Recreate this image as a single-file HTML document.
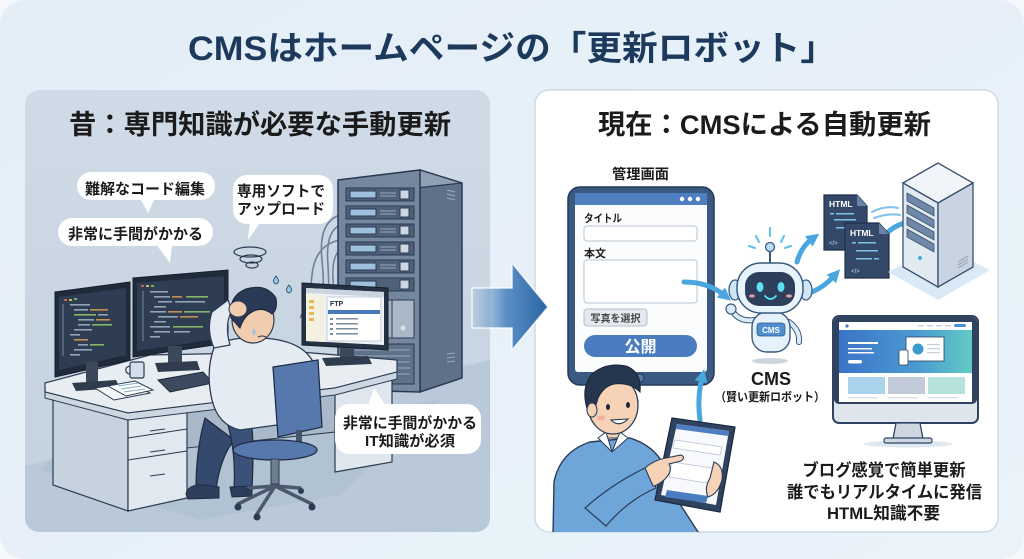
<!DOCTYPE html>
<html><head><meta charset="utf-8">
<style>
html,body{margin:0;padding:0;background:#f6f9fc;}
svg{display:block}
text{font-family:"Liberation Sans","Noto Sans CJK JP",sans-serif;font-weight:700;}
</style></head><body>
<svg width="1024" height="559" viewBox="0 0 1024 559" xmlns="http://www.w3.org/2000/svg">
<defs>
 <linearGradient id="bg" x1="0" y1="0" x2="1" y2="1">
  <stop offset="0" stop-color="#e4eef7"/><stop offset="1" stop-color="#eaf3fa"/>
 </linearGradient>
 <linearGradient id="lp" x1="0" y1="0" x2="0" y2="1">
  <stop offset="0" stop-color="#cfdbe6"/><stop offset="1" stop-color="#c3d1df"/>
 </linearGradient>
 <linearGradient id="arrowG" x1="472" y1="0" x2="548" y2="0" gradientUnits="userSpaceOnUse">
  <stop offset="0" stop-color="#6f9fcc" stop-opacity="0.15"/>
  <stop offset="0.45" stop-color="#5b90c6"/>
  <stop offset="1" stop-color="#2a64a3"/>
 </linearGradient>
 <linearGradient id="hero" x1="0" x2="1">
  <stop offset="0" stop-color="#3b74c8"/><stop offset="0.6" stop-color="#4b9bd2"/><stop offset="1" stop-color="#62cbc4"/>
 </linearGradient>
 <clipPath id="lclip"><rect x="25" y="90" width="465" height="442" rx="14"/></clipPath>
 <clipPath id="rclip"><rect x="535" y="90" width="463" height="442" rx="14"/></clipPath>
 <marker id="ah" markerWidth="13" markerHeight="13" refX="4" refY="6.5" orient="auto" markerUnits="userSpaceOnUse">
  <path d="M0,0 L13,6.5 L0,13 z" fill="#4aa6de"/>
 </marker>
</defs>

<!-- background card -->
<rect x="0" y="0" width="1024" height="559" rx="24" fill="url(#bg)"/>

<!-- title -->
<text x="512" y="60" text-anchor="middle" font-size="34" fill="#1d3a5c" textLength="648" lengthAdjust="spacingAndGlyphs">CMSはホームページの「更新ロボット」</text>

<!-- LEFT PANEL -->
<rect x="25" y="90" width="465" height="442" rx="14" fill="url(#lp)"/>
<g clip-path="url(#lclip)">
 <polygon points="25,466 490,360 490,532 25,532" fill="#b9c9d9"/>
 <polygon points="40,470 200,520 340,495 420,420 440,400 300,420 60,450" fill="#aebfd0" opacity="0.7"/>
</g>
<text x="260" y="134" text-anchor="middle" font-size="27" fill="#1b1b1b" textLength="382" lengthAdjust="spacingAndGlyphs">昔：専門知識が必要な手動更新</text>

<!-- cables -->
<g fill="none" stroke="#6f8199" stroke-width="1.6">
 <path d="M340,215 Q318,222 322,260 Q326,300 318,330"/>
 <path d="M340,225 Q325,232 328,265 Q330,300 326,335"/>
 <path d="M340,240 Q315,245 312,275 Q310,300 300,318"/>
 <path d="M340,250 Q330,258 334,290 Q336,310 332,338"/>
</g>

<!-- server rack left -->
<polygon points="420,170 462,183 462,378 420,392" fill="#5f7189" stroke="#2a3a52" stroke-width="1.5"/>
<polygon points="338,180 420,170 462,183 380,192" fill="#8fa0b5" stroke="#2a3a52" stroke-width="1.2"/>
<polygon points="338,180 420,170 420,392 338,390" fill="#74879f" stroke="#2a3a52" stroke-width="1.5"/>
<g stroke="#2a3a52" stroke-width="1">
 <rect x="346" y="188" width="68" height="13" fill="#4f6179"/><rect x="350" y="191" width="26" height="7" fill="#9fc0dc"/><rect x="400" y="190" width="9" height="9" fill="#cfd8e2"/>
 <rect x="346" y="206" width="68" height="13" fill="#4f6179"/><rect x="350" y="209" width="26" height="7" fill="#9fc0dc"/><rect x="400" y="208" width="9" height="9" fill="#cfd8e2"/>
 <rect x="346" y="224" width="68" height="13" fill="#4f6179"/><rect x="350" y="227" width="26" height="7" fill="#9fc0dc"/><rect x="400" y="226" width="9" height="9" fill="#cfd8e2"/>
 <rect x="346" y="242" width="68" height="13" fill="#4f6179"/><rect x="350" y="245" width="26" height="7" fill="#9fc0dc"/><rect x="400" y="244" width="9" height="9" fill="#cfd8e2"/>
 <rect x="346" y="260" width="68" height="13" fill="#4f6179"/><rect x="350" y="263" width="26" height="7" fill="#9fc0dc"/><rect x="400" y="262" width="9" height="9" fill="#cfd8e2"/>
 <rect x="346" y="278" width="68" height="13" fill="#4f6179"/><rect x="350" y="281" width="26" height="7" fill="#9fc0dc"/><rect x="400" y="280" width="9" height="9" fill="#cfd8e2"/>
 <rect x="346" y="300" width="68" height="38" fill="#aab8c8"/>
 <line x1="369" y1="300" x2="369" y2="338"/><line x1="392" y1="300" x2="392" y2="338"/>
 <rect x="346" y="344" width="68" height="40" fill="#5f7189"/>
</g>
<g fill="#dbe3ec">
 <circle cx="357" cy="328" r="2.5"/><circle cx="380" cy="328" r="2.5"/><circle cx="403" cy="328" r="2.5"/>
</g>
<g stroke="#9aaabd" stroke-width="1">
 <line x1="380" y1="193" x2="396" y2="193"/><line x1="380" y1="196" x2="396" y2="196"/>
 <line x1="380" y1="211" x2="396" y2="211"/><line x1="380" y1="214" x2="396" y2="214"/>
 <line x1="380" y1="229" x2="396" y2="229"/><line x1="380" y1="232" x2="396" y2="232"/>
 <line x1="380" y1="247" x2="396" y2="247"/><line x1="380" y1="250" x2="396" y2="250"/>
 <line x1="380" y1="265" x2="396" y2="265"/><line x1="380" y1="268" x2="396" y2="268"/>
 <line x1="350" y1="350" x2="410" y2="350"/><line x1="350" y1="356" x2="410" y2="356"/><line x1="350" y1="362" x2="410" y2="362"/><line x1="350" y1="368" x2="410" y2="368"/><line x1="350" y1="374" x2="410" y2="374"/>
 <line x1="447" y1="190" x2="455" y2="192"/><line x1="447" y1="194" x2="455" y2="196"/><line x1="447" y1="198" x2="455" y2="200"/>
 <line x1="447" y1="354" x2="455" y2="353"/><line x1="447" y1="358" x2="455" y2="357"/><line x1="447" y1="362" x2="455" y2="361"/>
</g>

<!-- desk -->
<polygon points="53,398 128,420 128,511 53,485" fill="#c6d2de" stroke="#2b3b52" stroke-width="1.2"/>
<polygon points="187,412 335,392 335,432 187,448" fill="#aab9c9" stroke="#2b3b52" stroke-width="1"/>
<polygon points="128,420 187,410 187,498 128,511" fill="#e2e8ef" stroke="#2b3b52" stroke-width="1.2"/>
<g stroke="#2b3b52" stroke-width="1" fill="none">
 <line x1="128" y1="438" x2="187" y2="429"/><line x1="128" y1="460" x2="187" y2="451"/>
 <line x1="150" y1="431" x2="165" y2="429"/><line x1="150" y1="452" x2="165" y2="450"/><line x1="150" y1="476" x2="165" y2="474"/>
</g>
<polygon points="335,392 392,378 392,462 335,472" fill="#dfe6ed" stroke="#2b3b52" stroke-width="1.2"/>
<polygon points="45,383 150,355 300,352 397,360 397,372 335,388 128,413 45,392" fill="#e8edf2" stroke="#2b3b52" stroke-width="1.2"/>
<polygon points="45,392 128,413 335,388 397,372 397,379 335,395 128,420 45,398" fill="#cdd7e1" stroke="#2b3b52" stroke-width="1"/>

<!-- monitors -->
<polygon points="55,292 130,282 130,360 55,377" fill="#1f2b3b" stroke="#16202c" stroke-width="1"/>
<polygon points="59,297 126,288 126,355 59,370" fill="#2e3d52"/>
<rect x="86" y="362" width="12" height="20" fill="#3a4859"/>
<polygon points="72,383 116,380 120,388 76,391" fill="#2f3c4d"/>
<polygon points="133,278 228,270 228,343 133,357" fill="#1f2b3b" stroke="#16202c" stroke-width="1"/>
<polygon points="137,283 224,276 224,338 137,351" fill="#2e3d52"/>
<rect x="168" y="346" width="14" height="17" fill="#3a4859"/>
<polygon points="155,363 197,361 200,370 158,372" fill="#2f3c4d"/>
<g opacity="0.9">
 <rect x="64" y="299" width="3" height="2" fill="#e0665a"/><rect x="69" y="299" width="3" height="2" fill="#e8c05a"/><rect x="74" y="298" width="3" height="2" fill="#7cc46a"/>
 <rect x="70" y="304" width="20" height="1.6" fill="#9fb0c4"/>
 <rect x="74" y="309" width="14" height="1.6" fill="#9fb0c4"/><rect x="90" y="309" width="18" height="1.6" fill="#d79b4f"/>
 <rect x="74" y="314" width="22" height="1.6" fill="#8fc36a"/><rect x="98" y="314" width="10" height="1.6" fill="#9fb0c4"/>
 <rect x="78" y="319" width="16" height="1.6" fill="#9fb0c4"/><rect x="96" y="319" width="14" height="1.6" fill="#d79b4f"/>
 <rect x="78" y="324" width="12" height="1.6" fill="#9fb0c4"/><rect x="92" y="324" width="20" height="1.6" fill="#8fc36a"/>
 <rect x="74" y="329" width="18" height="1.6" fill="#9fb0c4"/>
 <rect x="70" y="334" width="10" height="1.6" fill="#9fb0c4"/>
 <rect x="74" y="339" width="14" height="1.6" fill="#d79b4f"/>
 <rect x="78" y="344" width="10" height="1.6" fill="#9fb0c4"/><rect x="90" y="344" width="14" height="1.6" fill="#8fc36a"/>
 <rect x="74" y="349" width="18" height="1.6" fill="#9fb0c4"/>
 <rect x="70" y="354" width="10" height="1.6" fill="#9fb0c4"/>
 <rect x="62" y="304" width="2" height="52" fill="#56677c"/>
 <rect x="141" y="285" width="3" height="2" fill="#e0665a"/><rect x="146" y="285" width="3" height="2" fill="#e8c05a"/><rect x="151" y="285" width="3" height="2" fill="#7cc46a"/>
 <rect x="150" y="291" width="18" height="1.6" fill="#9fb0c4"/>
 <rect x="154" y="296" width="16" height="1.6" fill="#9fb0c4"/><rect x="172" y="296" width="10" height="1.6" fill="#d79b4f"/><rect x="186" y="296" width="22" height="1.6" fill="#8fc36a"/>
 <rect x="158" y="301" width="14" height="1.6" fill="#9fb0c4"/><rect x="175" y="301" width="30" height="1.6" fill="#9fb0c4"/>
 <rect x="154" y="306" width="12" height="1.6" fill="#9fb0c4"/>
 <rect x="150" y="311" width="16" height="1.6" fill="#9fb0c4"/><rect x="168" y="311" width="14" height="1.6" fill="#d79b4f"/><rect x="184" y="311" width="26" height="1.6" fill="#8fc36a"/>
 <rect x="158" y="316" width="20" height="1.6" fill="#9fb0c4"/><rect x="180" y="316" width="18" height="1.6" fill="#d79b4f"/>
 <rect x="154" y="321" width="12" height="1.6" fill="#9fb0c4"/>
 <rect x="150" y="326" width="20" height="1.6" fill="#9fb0c4"/><rect x="173" y="326" width="30" height="1.6" fill="#8fc36a"/>
 <rect x="154" y="331" width="16" height="1.6" fill="#9fb0c4"/><rect x="174" y="331" width="16" height="1.6" fill="#9fb0c4"/>
 <rect x="150" y="336" width="10" height="1.6" fill="#9fb0c4"/>
 <rect x="142" y="291" width="2" height="50" fill="#56677c"/>
</g>
<!-- mug & papers & keyboard -->
<rect x="130" y="362" width="14" height="16" rx="2" fill="#d5dee8" stroke="#2b3b52" stroke-width="1.2"/>
<path d="M130,366 q-5,1 -4,5 q1,3 4,3" fill="none" stroke="#2b3b52" stroke-width="1.2"/>
<polygon points="95,388 130,383 150,393 114,400" fill="#f4f7fa" stroke="#2b3b52" stroke-width="1"/>
<polygon points="108,386 135,381 153,390 126,396" fill="#ffffff" stroke="#2b3b52" stroke-width="1"/>
<g stroke="#7fb0c8" stroke-width="1"><line x1="118" y1="386" x2="138" y2="383"/><line x1="121" y1="389" x2="142" y2="386"/><line x1="124" y1="392" x2="145" y2="389"/></g>
<polygon points="158,380 203,372 213,383 170,392" fill="#3b4a5e" stroke="#1d2838" stroke-width="1"/>

<!-- FTP monitor -->
<polygon points="302,283 388,288 388,350 302,345" fill="#243244" stroke="#16202c" stroke-width="1"/>
<polygon points="306,288 384,292 384,345 306,341" fill="#eef3f8"/>
<polygon points="306,288 384,292 384,297 306,293" fill="#c9d4e0"/>
<polygon points="306,293 324,294 324,342 306,341" fill="#f5f1e2"/>
<g fill="#e8b850"><rect x="309" y="300" width="5" height="3"/><rect x="309" y="306" width="5" height="3"/><rect x="309" y="312" width="5" height="3"/><rect x="309" y="318" width="5" height="3"/></g>
<rect x="327" y="297" width="54" height="44" fill="#ffffff" stroke="#9fb0c4" stroke-width="0.6"/>
<text x="330" y="306" font-size="7" fill="#1d2b3c">FTP</text>
<rect x="328" y="310" width="52" height="4" fill="#4a78b8"/>
<g fill="#7b8ca0"><rect x="330" y="318" width="3" height="2"/><rect x="336" y="318" width="22" height="1.5"/><rect x="330" y="323" width="3" height="2"/><rect x="336" y="323" width="22" height="1.5"/><rect x="330" y="328" width="3" height="2"/><rect x="336" y="328" width="22" height="1.5"/><rect x="330" y="333" width="3" height="2"/><rect x="336" y="333" width="22" height="1.5"/></g>
<rect x="340" y="348" width="14" height="10" fill="#3a4859"/>
<polygon points="322,358 368,356 372,364 326,366" fill="#2f3c4d"/>

<!-- person left -->
<path d="M205,418 Q196,450 196,488 L216,490 Q220,458 234,440 Z" fill="#34496d" stroke="#1e2b40" stroke-width="1.2"/>
<path d="M228,425 Q236,455 234,488 L252,488 Q254,450 252,428 Z" fill="#3b5177" stroke="#1e2b40" stroke-width="1.2"/>
<path d="M186,494 Q188,484 204,485 L219,487 L219,498 L188,499 Z" fill="#2c3e5c" stroke="#1e2b40" stroke-width="1"/>
<path d="M230,487 L252,486 L252,496 L232,497 Z" fill="#2c3e5c" stroke="#1e2b40" stroke-width="1"/>
<path d="M215,345 Q235,336 262,338 Q300,340 312,360 Q320,385 314,420 L240,430 Q218,425 212,400 Q205,370 215,345 Z" fill="#e4ebf3" stroke="#2b3b52" stroke-width="1.3"/>
<path d="M214,348 Q206,330 212,312 L228,300 L232,310 Q224,325 230,345 Z" fill="#e4ebf3" stroke="#2b3b52" stroke-width="1.2"/>
<ellipse cx="253" cy="320" rx="21" ry="23" fill="#f1ccae" stroke="#2b3b52" stroke-width="1.2"/>
<path d="M231,318 Q228,296 246,289 Q266,283 276,298 Q278,310 272,314 Q262,306 252,312 Q244,316 240,328 Z" fill="#283a55" stroke="#1b2739" stroke-width="1"/>
<ellipse cx="238" cy="309" rx="9" ry="8" fill="#f1ccae" stroke="#2b3b52" stroke-width="1"/>
<path d="M254,328 q3,5 0,7 q-3,-2 0,-7z" fill="#8ccaf0"/>
<path d="M258,337 q4,-2 8,0" fill="none" stroke="#2b3b52" stroke-width="1"/>
<g fill="none" stroke="#2b3b52" stroke-width="1.2">
 <ellipse cx="250" cy="252" rx="16" ry="5"/><ellipse cx="251" cy="259" rx="11" ry="4"/><ellipse cx="252" cy="265" rx="6" ry="3"/>
</g>
<path d="M276,276 q5,6 0,8 q-5,-2 0,-8z" fill="#8ccaf0" stroke="#2b3b52" stroke-width="0.8"/>
<path d="M289,285 q5,6 0,8 q-5,-2 0,-8z" fill="#8ccaf0" stroke="#2b3b52" stroke-width="0.8"/>
<!-- chair -->
<polygon points="273,367 318,360 322,427 278,437" fill="#5678ad" stroke="#1f2f4a" stroke-width="1.3"/>
<rect x="296" y="430" width="6" height="16" fill="#44556b"/>
<ellipse cx="275" cy="450" rx="42" ry="10" fill="#5678ad" stroke="#1f2f4a" stroke-width="1.3"/>
<rect x="271" y="459" width="8" height="25" fill="#6e7d90" stroke="#2b3b52" stroke-width="1"/>
<g stroke="#4a596c" stroke-width="3.5" stroke-linecap="round">
 <line x1="275" y1="486" x2="238" y2="504"/><line x1="275" y1="486" x2="257" y2="514"/><line x1="275" y1="486" x2="312" y2="504"/><line x1="275" y1="486" x2="300" y2="488"/><line x1="275" y1="486" x2="248" y2="488"/>
</g>
<g fill="#2b3b52"><circle cx="238" cy="507" r="3.5"/><circle cx="257" cy="517" r="3.5"/><circle cx="312" cy="507" r="3.5"/><circle cx="301" cy="491" r="3"/><circle cx="247" cy="491" r="3"/></g>

<!-- bubbles left -->
<g fill="#ffffff">
 <path d="M140,198 L148,213 L155,198 Z"/>
 <rect x="77" y="172" width="138" height="28" rx="14"/>
 <path d="M156,244 L170,263 L172,244 Z"/>
 <rect x="58" y="218" width="155" height="28" rx="14"/>
 <path d="M250,220 L248,240 L262,220 Z"/>
 <rect x="233" y="175" width="100" height="49" rx="14"/>
 <path d="M368,406 L374,388 L386,406 Z"/>
 <rect x="335" y="404" width="146" height="50" rx="14"/>
</g>
<g fill="#1b1b1b">
 <text x="145" y="194" text-anchor="middle" font-size="15" textLength="120" lengthAdjust="spacingAndGlyphs">難解なコード編集</text>
 <text x="135.5" y="239" text-anchor="middle" font-size="15" textLength="135" lengthAdjust="spacingAndGlyphs">非常に手間がかかる</text>
 <text x="281" y="196" text-anchor="middle" font-size="15" textLength="88" lengthAdjust="spacingAndGlyphs">専用ソフトで</text>
 <text x="281" y="214" text-anchor="middle" font-size="15" textLength="88" lengthAdjust="spacingAndGlyphs">アップロード</text>
 <text x="410" y="428" text-anchor="middle" font-size="15" textLength="134" lengthAdjust="spacingAndGlyphs">非常に手間がかかる</text>
 <text x="410" y="446" text-anchor="middle" font-size="15" textLength="90" lengthAdjust="spacingAndGlyphs">IT知識が必須</text>
</g>

<!-- RIGHT PANEL -->
<rect x="535" y="90" width="463" height="442" rx="14" fill="#ffffff" stroke="#cddae6" stroke-width="1.5"/>
<text x="764.5" y="134" text-anchor="middle" font-size="27" fill="#1b1b1b" textLength="333" lengthAdjust="spacingAndGlyphs">現在：CMSによる自動更新</text>

<!-- big arrow -->
<path d="M472,288 L512,288 L512,263 L548,307 L512,350 L512,328 L472,328 Z" fill="url(#arrowG)" stroke="#ffffff" stroke-width="1.5" stroke-opacity="0.8"/>

<!-- admin tablet -->
<text x="640.5" y="179" text-anchor="middle" font-size="14" fill="#1b1b1b" textLength="57" lengthAdjust="spacingAndGlyphs">管理画面</text>
<rect x="568" y="187" width="146" height="198" rx="12" fill="#3b5a82" stroke="#24395a" stroke-width="1.5"/>
<rect x="575" y="193" width="132" height="179" rx="3" fill="#fbfcfe"/>
<rect x="575" y="193" width="132" height="12" fill="#4f7fc0"/>
<g fill="#ffffff"><circle cx="682" cy="199" r="2.2"/><circle cx="690" cy="199" r="2.2"/><circle cx="698" cy="199" r="2.2"/></g>
<circle cx="640" cy="378" r="4" fill="#5d7aa0" stroke="#24395a"/>
<text x="584" y="222" font-size="11" fill="#222" textLength="38" lengthAdjust="spacingAndGlyphs">タイトル</text>
<rect x="584" y="226" width="113" height="15" rx="3" fill="#fff" stroke="#b9c5d2"/>
<text x="584" y="257" font-size="11" fill="#222">本文</text>
<rect x="584" y="260" width="113" height="43" rx="3" fill="#fff" stroke="#b9c5d2"/>
<rect x="584" y="309" width="63" height="17" rx="3" fill="#e4e9ef" stroke="#b5bfca"/>
<text x="615.5" y="322" text-anchor="middle" font-size="10" fill="#444">写真を選択</text>
<rect x="584" y="335" width="113" height="22" rx="11" fill="#4a7cbf"/>
<text x="640.5" y="352" text-anchor="middle" font-size="16" fill="#ffffff">公開</text>

<!-- blue arrows -->
<g fill="none" stroke="#4aa6de" stroke-width="5" stroke-linecap="round" marker-end="url(#ah)">
 <path d="M684,282 Q708,282 724,295"/>
 <path d="M797,262 Q801,247 812,239"/>
 <path d="M812,292 Q824,287 834,276"/>
 <path d="M888,232 Q897,224 909,222"/>
 <path d="M700,420 Q697,398 702,378"/>
</g>
<g fill="none" stroke="#7cc2ea" stroke-width="2" stroke-linecap="round">
 <path d="M872,212 Q885,205 898,208"/><path d="M874,218 Q888,213 900,215"/>
</g>

<!-- robot -->
<g stroke="#5ec0e8" stroke-width="2" stroke-linecap="round">
 <line x1="756" y1="236" x2="759" y2="242"/><line x1="770" y1="228" x2="770" y2="236"/><line x1="784" y1="236" x2="781" y2="242"/><line x1="749" y1="246" x2="755" y2="248"/><line x1="791" y1="246" x2="785" y2="248"/>
</g>
<ellipse cx="770" cy="361" rx="18" ry="3" fill="#cbd5df"/>
<line x1="770" y1="250" x2="770" y2="264" stroke="#3a5a80" stroke-width="2"/>
<circle cx="770" cy="247" r="4.5" fill="#b8dcf3" stroke="#3a5a80" stroke-width="1.3"/>
<path d="M754,320 Q740,322 733,312" fill="none" stroke="#3a5a80" stroke-width="6" stroke-linecap="round"/>
<path d="M754,320 Q740,322 733,312" fill="none" stroke="#dcecf8" stroke-width="4" stroke-linecap="round"/>
<circle cx="731" cy="309" r="5" fill="#dcecf8" stroke="#3a5a80" stroke-width="1.2"/>
<path d="M789,322 Q800,330 799,342" fill="none" stroke="#3a5a80" stroke-width="6" stroke-linecap="round"/>
<path d="M789,322 Q800,330 799,342" fill="none" stroke="#dcecf8" stroke-width="4" stroke-linecap="round"/>
<rect x="752" y="312" width="38" height="40" rx="15" fill="#e6f2fb" stroke="#3a5a80" stroke-width="1.4"/>
<rect x="757" y="323" width="28" height="13" rx="3" fill="#4f8fd0" stroke="#2d5a8c" stroke-width="0.8"/>
<text x="771" y="333" text-anchor="middle" font-size="8" fill="#ffffff">CMS</text>
<ellipse cx="735" cy="290" rx="6" ry="10" fill="#cfe6f6" stroke="#3a5a80" stroke-width="1.3"/>
<ellipse cx="806" cy="290" rx="6" ry="10" fill="#cfe6f6" stroke="#3a5a80" stroke-width="1.3"/>
<rect x="737" y="263" width="66" height="50" rx="24" fill="#e8f4fc" stroke="#3a5a80" stroke-width="1.5"/>
<rect x="745" y="272" width="50" height="34" rx="14" fill="#2d3f5b"/>
<ellipse cx="760" cy="287" rx="3.5" ry="5" fill="#5ee0f0"/>
<ellipse cx="781" cy="287" rx="3.5" ry="5" fill="#5ee0f0"/>
<path d="M765,296 Q770.5,302 776,296" fill="none" stroke="#5ee0f0" stroke-width="1.8" stroke-linecap="round"/>
<ellipse cx="752" cy="296" rx="3" ry="1.6" fill="#e89aa8"/><ellipse cx="789" cy="296" rx="3" ry="1.6" fill="#e89aa8"/>
<text x="771" y="385" text-anchor="middle" font-size="18" fill="#1b1b1b">CMS</text>
<text x="770" y="401" text-anchor="middle" font-size="12" fill="#1b1b1b" textLength="110" lengthAdjust="spacingAndGlyphs">（賢い更新ロボット）</text>

<!-- html docs -->
<path d="M824,195 L857,195 L867,206 L867,250 L824,250 Z" fill="#34496a" stroke="#1f2f48" stroke-width="1.2"/>
<path d="M857,195 L857,206 L867,206 Z" fill="#6d83a3"/>
<text x="829" y="207" font-size="8.5" fill="#ffffff">HTML</text>
<g fill="#7fc0ea"><rect x="830" y="213" width="4" height="1.5"/><rect x="836" y="213" width="18" height="1.5"/><rect x="834" y="219" width="22" height="1.5"/><rect x="836" y="227" width="12" height="1.5"/></g>
<text x="829" y="245" font-size="6" fill="#9fb4cc">&lt;/&gt;</text>
<path d="M845,223 L879,223 L889,234 L889,278 L845,278 Z" fill="#34496a" stroke="#1f2f48" stroke-width="1.2"/>
<path d="M879,223 L879,234 L889,234 Z" fill="#6d83a3"/>
<text x="850" y="236" font-size="8.5" fill="#ffffff">HTML</text>
<g fill="#7fc0ea"><rect x="852" y="242" width="4" height="1.5"/><rect x="858" y="242" width="18" height="1.5"/><rect x="856" y="250" width="22" height="1.5"/><rect x="856" y="258" width="16" height="1.5"/><rect x="874" y="258" width="5" height="1.5"/></g>
<text x="851" y="273" font-size="6" fill="#9fb4cc">&lt;/&gt;</text>

<!-- server right -->
<polygon points="888,272 938,300 990,270 940,245" fill="#d9e9f6"/>
<polygon points="903,183 938,163 973,183 938,203" fill="#f1f5f9" stroke="#3a5070" stroke-width="1.3"/>
<polygon points="903,183 938,203 938,287 903,267" fill="#e1e9f1" stroke="#3a5070" stroke-width="1.3"/>
<polygon points="938,203 973,183 973,267 938,287" fill="#c8d4e1" stroke="#3a5070" stroke-width="1.3"/>
<g fill="#6f88a8" stroke="#3a5070" stroke-width="0.8">
 <polygon points="907,193 934,208 934,216 907,201"/>
 <polygon points="907,205 934,220 934,228 907,213"/>
 <polygon points="907,217 934,232 934,240 907,225"/>
 <polygon points="907,229 934,244 934,252 907,237"/>
</g>
<circle cx="920" cy="258" r="2" fill="#4aa6de"/>
<g stroke="#8a9bb0" stroke-width="0.8"><line x1="958" y1="262" x2="968" y2="256"/><line x1="958" y1="265" x2="968" y2="259"/><line x1="958" y1="268" x2="968" y2="262"/></g>

<!-- right monitor -->
<rect x="833" y="316" width="145" height="107" rx="6" fill="#dfe5ec" stroke="#2f4260" stroke-width="2"/>
<rect x="834" y="317" width="143" height="87" rx="5" fill="#2f4260"/>
<rect x="839" y="322" width="133" height="80" fill="#ffffff"/>
<circle cx="847" cy="326" r="1.6" fill="#4a7cbf"/>
<g fill="#c7d0da"><rect x="918" y="325" width="6" height="1.4"/><rect x="927" y="325" width="6" height="1.4"/><rect x="936" y="325" width="6" height="1.4"/><rect x="945" y="325" width="6" height="1.4"/></g>
<rect x="954" y="324" width="12" height="3" rx="1.5" fill="#4a8fd8"/>
<rect x="839" y="330" width="133" height="43" fill="url(#hero)"/>
<g fill="#ffffff"><rect x="848" y="342" width="30" height="2"/><rect x="848" y="348" width="24" height="1.5"/><rect x="848" y="352" width="26" height="1.5"/><rect x="848" y="360" width="14" height="3.5" rx="1.7"/></g>
<rect x="906" y="337" width="38" height="24" fill="#ffffff" stroke="#2f4260" stroke-width="0.8"/>
<circle cx="918" cy="349" r="5.5" fill="#3b9ad0"/>
<g fill="#c7d0da"><rect x="927" y="344" width="13" height="1.2"/><rect x="927" y="348" width="13" height="1.2"/><rect x="927" y="352" width="13" height="1.2"/></g>
<rect x="899" y="350" width="9" height="15" rx="1.5" fill="#ffffff" stroke="#2f4260" stroke-width="0.8"/>
<rect x="848" y="377" width="37" height="17" fill="#a9d2ec"/>
<rect x="888" y="377" width="37" height="17" fill="#c0cad8"/>
<rect x="928" y="377" width="37" height="17" fill="#b6e2dc"/>
<g fill="#dde3ea"><rect x="848" y="397" width="30" height="1.5"/><rect x="888" y="397" width="30" height="1.5"/><rect x="928" y="397" width="30" height="1.5"/></g>
<polygon points="896,423 920,423 923,439 893,439" fill="#cfd8e2" stroke="#2f4260" stroke-width="1.3"/>
<ellipse cx="908" cy="444" rx="44" ry="3.5" fill="#dfe8f1"/>
<rect x="884" y="438" width="48" height="5" rx="2" fill="#cfd8e2" stroke="#2f4260" stroke-width="1.2"/>

<!-- right texts -->
<g fill="#1b1b1b">
 <text x="884" y="476" text-anchor="middle" font-size="17" textLength="163" lengthAdjust="spacingAndGlyphs">ブログ感覚で簡単更新</text>
 <text x="884.5" y="498" text-anchor="middle" font-size="17" textLength="195" lengthAdjust="spacingAndGlyphs">誰でもリアルタイムに発信</text>
 <text x="883.5" y="519" text-anchor="middle" font-size="17" textLength="113" lengthAdjust="spacingAndGlyphs">HTML知識不要</text>
</g>

<!-- person right -->
<g clip-path="url(#rclip)">
<path d="M553,535 L554,482 Q560,452 590,442 L630,438 Q652,445 662,462 L676,498 L700,535 Z" fill="#6fa6da" stroke="#2a3b55" stroke-width="1.4"/>
<rect x="604" y="424" width="18" height="14" fill="#f6d3b6" stroke="#2a3b55" stroke-width="1"/>
<path d="M598,438 L612,452 L606,432 Z M628,438 L612,452 L620,432 Z" fill="#ffffff" stroke="#2a3b55" stroke-width="1"/>
<ellipse cx="613" cy="405" rx="25" ry="29" fill="#f6d3b6" stroke="#2a3b55" stroke-width="1.3"/>
<path d="M588,412 Q580,388 592,374 Q606,362 626,366 Q642,372 640,392 Q630,382 614,384 Q604,386 598,398 Q596,406 592,414 Z" fill="#26364f" stroke="#1a2638" stroke-width="1"/>
<ellipse cx="592" cy="410" rx="5" ry="7" fill="#f6d3b6" stroke="#2a3b55" stroke-width="1"/>
<ellipse cx="608" cy="407" rx="2" ry="3" fill="#1a2638"/><ellipse cx="628" cy="405" rx="2" ry="3" fill="#1a2638"/>
<path d="M611,420 Q619,428 628,419 Z" fill="#ffffff" stroke="#2a3b55" stroke-width="1.1"/>
<ellipse cx="601" cy="418" rx="4" ry="2.5" fill="#f0a0a0" opacity="0.7"/>
<polygon points="672,418 735,427 720,512 655,500" fill="#2f4260" stroke="#1c2a40" stroke-width="1.3"/>
<polygon points="677,424 729,431 716,505 661,495" fill="#f7f9fc"/>
<polygon points="677,424 729,431 728,436 676,429" fill="#4f7fc0"/>
<g stroke="#b9c5d2" fill="#ffffff" stroke-width="0.8">
 <polygon points="675,440 722,447 720,455 673,448"/>
 <polygon points="672,462 718,469 714,484 669,477"/>
</g>
<polygon points="667,490 708,496 706,503 665,497" fill="#4a7cbf"/>
<path d="M585,508 Q612,484 645,468 L656,488 Q628,500 606,526 Z" fill="#6fa6da" stroke="#2a3b55" stroke-width="1.2"/>
<path d="M645,468 Q654,460 666,458 L681,455 Q686,457 681,461 L669,464 Q673,471 665,479 Q657,486 653,486 Z" fill="#f6d3b6" stroke="#2a3b55" stroke-width="1.1"/>
<path d="M714,462 Q724,466 722,480 Q718,494 708,497 Q704,488 710,478 Z" fill="#f6d3b6" stroke="#2a3b55" stroke-width="1.1"/>
</g>
</svg>
</body></html>
